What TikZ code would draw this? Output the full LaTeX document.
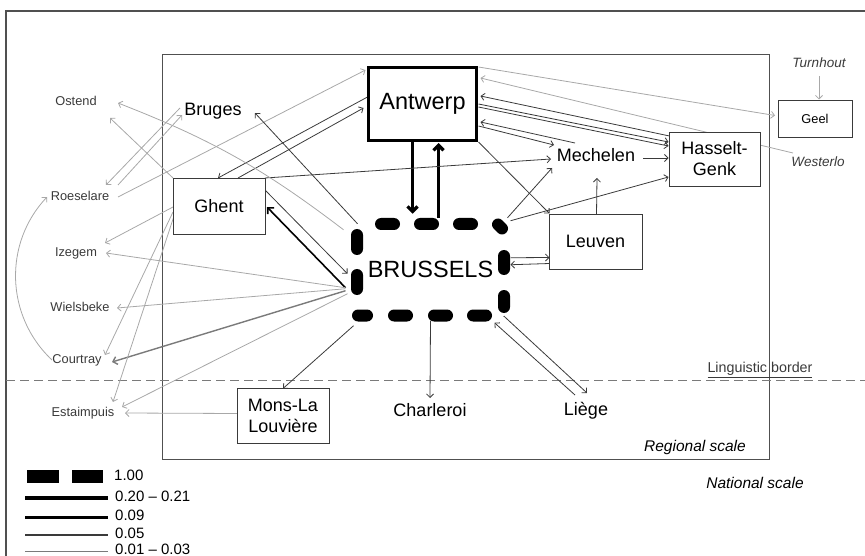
\documentclass[tikz,border=0pt]{standalone}
\usepackage{fontspec}
\setmainfont{Liberation Sans}
\usetikzlibrary{arrows.meta,calc}
\pgfdeclarelayer{bg}
\pgfsetlayers{bg,main}
\definecolor{lgray}{HTML}{A8A8A8}
\definecolor{mgray}{HTML}{7A7A7A}
\definecolor{dgray}{HTML}{3A3A3A}
\definecolor{framec}{HTML}{505050}
\begin{document}
\begin{tikzpicture}[x=1pt,y=-1pt,
  box/.style={draw=dgray, fill=white, line width=0.9pt, inner sep=0pt, align=center, font=\fontsize{18}{21}\selectfont},
  big/.style={font=\fontsize{23.5}{26}\selectfont},
  city/.style={inner sep=0pt, text height=0.72em, text depth=0pt, font=\fontsize{18}{21}\selectfont},
  town/.style={inner sep=0pt, text height=0.72em, text depth=0pt, text=dgray, font=\fontsize{12.8}{15}\selectfont},
  itl/.style={inner sep=0pt, text height=0.72em, text depth=0pt, text=dgray, font=\fontsize{13.5}{15}\selectfont\itshape},
  scl/.style={inner sep=0pt, text height=0.72em, text depth=0pt, font=\fontsize{15.5}{18}\selectfont\itshape},
  leg/.style={inner sep=0pt, anchor=west, text height=0.72em, text depth=0pt, font=\fontsize{15}{17}\selectfont},
  blob/.style={line width=12pt, line cap=round, draw=black},
  fa/.style={draw=lgray, line width=0.8pt, -{Straight Barb[length=3.5pt,width=7pt]}},
  fb/.style={draw=dgray, line width=0.8pt, -{Straight Barb[length=3.5pt,width=7pt]}},
  fm/.style={draw=mgray, line width=1.4pt, -{Straight Barb[length=4pt,width=8pt]}},
  fc/.style={draw=black, line width=1.6pt, -{Straight Barb[length=4.5pt,width=9pt]}},
  fd/.style={draw=black, line width=3.2pt, -{Straight Barb[length=5pt,width=10pt]}},
]
\useasboundingbox (0,0) rectangle (865,556);

% main nodes
\node[box, draw=black, line width=3pt, minimum width=108pt, minimum height=73pt, big] (ant) at (422.5,104) {Antwerp};
\node[fill=white, minimum width=147pt, minimum height=91.5pt, inner sep=0pt, big] (bru) at (430.5,269.75) {BRUSSELS};
\begin{scope}[shift={(bru)}]
  \draw[blob] (-49.5,-45.75) -- (-36.5,-45.75)
              (-10.5,-45.75) -- (2.5,-45.75)
              (28.5,-45.75) -- (41.5,-45.75)
              (67.5,-45.25) -- (71.5,-41.25)
              (73.5,-13.75) -- (73.5,-0.75)
              (73.5,26.25) -- (73.5,37.25)
              (55.5,45.75) -- (42.5,45.75)
              (16.5,45.75) -- (3.5,45.75)
              (-23.5,45.75) -- (-36.5,45.75)
              (-63.5,45.75) -- (-72.5,45.75)
              (-73.5,19.25) -- (-73.5,5.25)
              (-73.5,-20.75) -- (-73.5,-34.75);
\end{scope}
\node[box, minimum width=92pt, minimum height=56pt] (ghe) at (219,206) {Ghent};
\node[box, minimum width=93pt, minimum height=55pt] (leu) at (595.5,241.5) {Leuven};
\node[box, minimum width=91pt, minimum height=54pt] (has) at (714.5,159) {Hasselt-\\Genk};
\node[box, minimum width=74pt, minimum height=37pt, font=\fontsize{12.8}{15}\selectfont] (gee) at (815,118.5) {Geel};
\node[box, minimum width=92pt, minimum height=55pt] (mon) at (283,415.5) {Mons-La\\Louvière};

\node[city] (bur) at (213,112) {Bruges};
\node[city] (mec) at (596,158) {Mechelen};
\node[city] (cha) at (430,413) {Charleroi};
\node[city] (lie) at (586,412) {Liège};

\node[town] (ost) at (76,102) {Ostend};
\node[town] (roe) at (80,197) {Roeselare};
\node[town] (ize) at (76,253) {Izegem};
\node[town] (wie) at (80,308) {Wielsbeke};
\node[town] (cou) at (77,360) {Courtray};
\node[town] (est) at (83,413) {Estaimpuis};
\node[itl] (tur) at (819,64) {Turnhout};
\node[itl] (wes) at (818,163) {Westerlo};

\node[scl] (reg) at (695,448) {Regional scale};
\node[scl] (nat) at (755,485) {National scale};
\node[inner sep=0pt, text height=0.72em, text depth=0pt, text=dgray, font=\fontsize{14.3}{16}\selectfont] (lng) at (760,369) {\underline{Linguistic border}};

% legend
\fill (27,470) rectangle (59,483);
\fill (72,470) rectangle (103,483);
\node[leg] (l1) at (114,477) {1.00};
\draw[line width=4pt] (25,498) -- (108,498);
\node[leg] (l2) at (115,498) {0.20 -- 0.21};
\draw[line width=3pt] (25,517) -- (108,517);
\node[leg] (l3) at (115,517) {0.09};
\draw[line width=1.3pt, dgray] (25,535) -- (108,535);
\node[leg] (l4) at (115,535) {0.05};
\draw[line width=1pt, mgray] (25,551) -- (108,551);
\node[leg] (l5) at (115,550.5) {0.01 -- 0.03};

\begin{pgfonlayer}{bg}
\draw[framec, line width=1.4pt] (866,11) -- (6,11) -- (6,557);
\draw[framec, line width=0.9pt] (162,54) rectangle (769,459);
\draw[mgray, line width=1pt, dash pattern=on 9pt off 5pt] (6,380) -- (866,380);

\draw[fd] ($(ant)+(-10,38)$) -- ($(bru)+(-18,-56)$);
\draw[fd] ($(bru)+(8,-52)$) -- ($(ant)+(16,39)$);
\draw[fa] ($(ant)+(56,-37)$) -- ($(gee)+(-40,-3)$);
\draw[fa] ($(wes)+(-25,-10)$) -- ($(ant)+(58,-26)$);
\draw[fa] ($(tur)+(0,12)$) -- ($(gee)+(4,-19)$);
\draw[fb] ($(has)+(-45,-23)$) -- ($(ant)+(58,-8)$);
\draw[fb] ($(ant)+(56,0)$) -- ($(has)+(-46,-17)$);
\draw[fb] ($(ant)+(56,3)$) -- ($(has)+(-46,-13)$);
\draw[fb] ($(mec)+(-21,-15)$) -- ($(ant)+(58,18)$);
\draw[fb] ($(ant)+(56,22)$) -- ($(mec)+(-42,-13)$);
\draw[fb] ($(ant)+(56,38)$) -- ($(leu)+(-46,-28)$);
\draw[fb] ($(leu)+(1,-27)$) -- ($(mec)+(1,20)$);
\draw[fb] ($(mec)+(47,0)$) -- ($(has)+(-46,-1)$);
\draw[fb] ($(bru)+(80,-49)$) -- ($(has)+(-46,18)$);
\draw[fb] ($(bru)+(77,-52)$) -- ($(mec)+(-44,10)$);
\draw[fb] ($(ghe)+(46,-28)$) -- ($(mec)+(-45,1)$);
\draw[fb] ($(ant)+(-55,-7)$) -- ($(ghe)+(-1,-28)$);
\draw[fb] ($(ghe)+(19,-28)$) -- ($(ant)+(-59,4)$);
\draw[fa] ($(roe)+(38,0)$) -- ($(ant)+(-57,-34)$);
\draw[fa] ($(roe)+(38,-12)$) -- ($(bur)+(-31,3)$);
\draw[fa] ($(bur)+(-33,-4)$) -- ($(roe)+(26,-12)$);
\draw[fa] ($(ghe)+(-46,-28)$) -- ($(ost)+(34,16)$);
\draw[fa] ($(bru)+(-87,-40)$) to[bend right=8] ($(ost)+(42,1)$);
\draw[fb] ($(bru)+(-73,-46)$) -- ($(bur)+(42,1)$);
\draw[fc] ($(bru)+(-85,18)$) -- ($(ghe)+(48,1)$);
\draw[fb] ($(ghe)+(46,-16)$) -- ($(bru)+(-83,4)$);
\draw[fa] ($(bru)+(-85,18)$) -- ($(ize)+(30,0)$);
\draw[fa] ($(bru)+(-85,19)$) -- ($(wie)+(37,0)$);
\draw[fm] ($(bru)+(-85,21)$) -- ($(cou)+(35,2)$);
\draw[fa] ($(bru)+(-83,24)$) -- ($(est)+(39,-6)$);
\draw[fa] ($(ghe)+(-46,1)$) -- ($(ize)+(29,-10)$);
\draw[fa] ($(ghe)+(-46,6)$) -- ($(cou)+(28,-5)$);
\draw[fa] ($(ghe)+(-44,7)$) -- ($(est)+(30,-11)$);
\draw[fa] ($(cou)+(-25,0)$) to[bend left=45] ($(roe)+(-33,0)$);
\draw[fa] ($(mon)+(-46,-2)$) -- ($(est)+(42,0)$);
\draw[fb] ($(bru)+(-77,56)$) -- ($(mon)+(0,-27)$);
\draw[fb] ($(bru)+(0,51)$) -- ($(cha)+(0,-15)$);
\draw[fb] ($(lie)+(-11,-17)$) -- ($(bru)+(64,53)$);
\draw[fb] ($(bru)+(73,46)$) -- ($(lie)+(1,-19)$);
\draw[fb] ($(bru)+(80,-12)$) -- ($(leu)+(-46,16)$);
\draw[fb] ($(leu)+(-46,22)$) -- ($(bru)+(80,-5)$);
\end{pgfonlayer}
\end{tikzpicture}
\end{document}
